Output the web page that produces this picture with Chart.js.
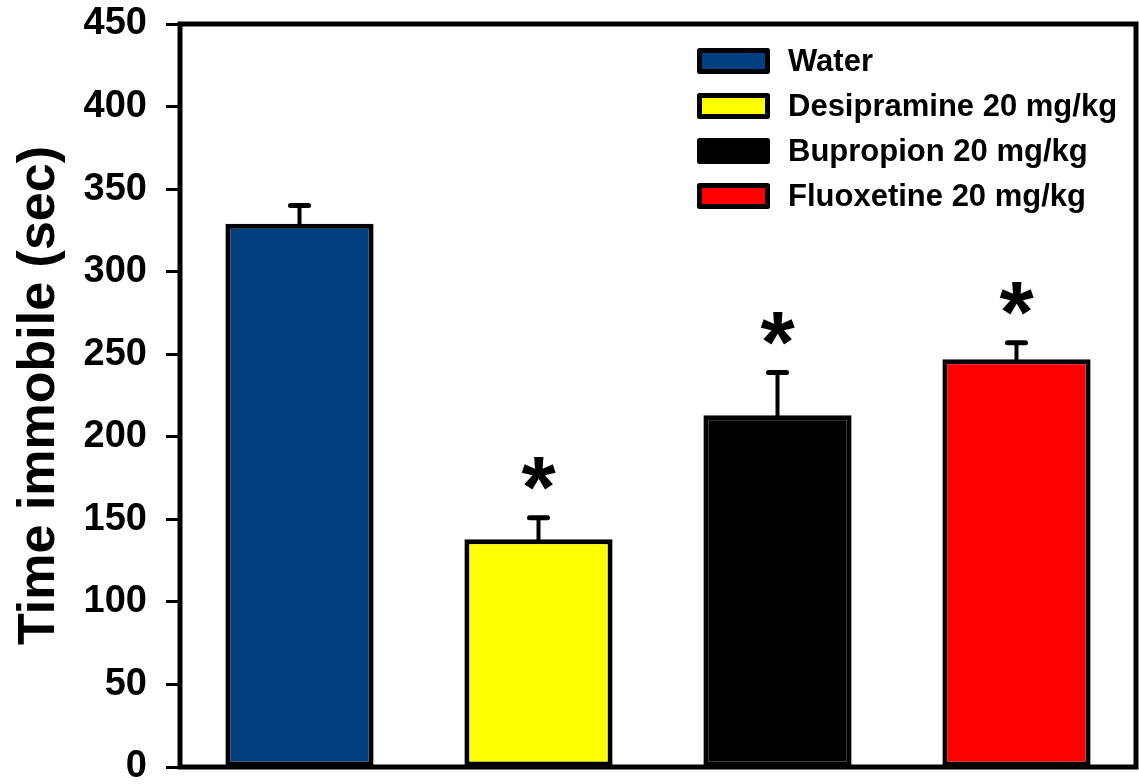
<!DOCTYPE html>
<html>
<head>
<meta charset="utf-8">
<script src="https://cdn.jsdelivr.net/npm/chart.js@4.4.0/dist/chart.umd.min.js"></script>
<style>
  html, body { margin: 0; padding: 0; background: #fff; }
  #wrap { width: 1139px; height: 784px; }
</style>
</head>
<body>
<div id="wrap"><canvas id="myChart" width="1139" height="784"></canvas></div>
<script>
// data
const groups = ['Water', 'Desipramine 20 mg/kg', 'Bupropion 20 mg/kg', 'Fluoxetine 20 mg/kg'];
const meanImmobile = [329, 138, 213, 247];
const semImmobile = [11, 13, 26, 10];
const sigMarks = ['', '*', '*', '*'];
const barColors = ['#004080', '#ffff00', '#000000', '#ff0000'];

const FONT = '"Liberation Sans", Arial, sans-serif';

// error bars + asterisks, drawn through the y scale
const errorBars = {
  id: 'errorBars',
  beforeDatasetsDraw(chart) {
    const ctx = chart.ctx;
    const y = chart.scales.y;
    const meta = chart.getDatasetMeta(0);
    ctx.save();
    ctx.strokeStyle = '#000';
    meta.data.forEach((bar, i) => {
      const x = bar.x;
      const yTop = y.getPixelForValue(meanImmobile[i]);
      const yErr = y.getPixelForValue(meanImmobile[i] + semImmobile[i]);
      ctx.lineCap = 'butt';
      ctx.lineWidth = 4;
      ctx.beginPath();
      ctx.moveTo(x, yTop + 2);
      ctx.lineTo(x, yErr);
      ctx.stroke();
      ctx.lineCap = 'round';
      ctx.lineWidth = 5;
      ctx.beginPath();
      ctx.moveTo(x - 9, yErr);
      ctx.lineTo(x + 9, yErr);
      ctx.stroke();
    });
    ctx.restore();
  },
  afterDraw(chart) {
    const ctx = chart.ctx;
    const y = chart.scales.y;
    const meta = chart.getDatasetMeta(0);
    ctx.save();
    ctx.fillStyle = '#000';
    ctx.font = 'bold 88px ' + FONT;
    ctx.textAlign = 'center';
    ctx.textBaseline = 'alphabetic';
    meta.data.forEach((bar, i) => {
      if (!sigMarks[i]) return;
      const yErr = y.getPixelForValue(meanImmobile[i] + semImmobile[i]);
      const m = ctx.measureText(sigMarks[i]);
      const cy = yErr - 44;
      const base = cy + (m.actualBoundingBoxAscent - m.actualBoundingBoxDescent) / 2;
      ctx.fillText(sigMarks[i], bar.x, base);
    });

    // frame round the plot
    const a = chart.chartArea;
    ctx.strokeStyle = '#000';
    ctx.lineWidth = 5;
    ctx.lineJoin = 'miter';
    ctx.strokeRect(a.left, a.top, a.right - a.left, a.bottom - a.top);

    // legend in the top right corner
    ctx.font = 'bold 31px ' + FONT;
    ctx.textAlign = 'left';
    ctx.textBaseline = 'middle';
    groups.forEach((g, i) => {
      const cy = 61 + i * 45;
      ctx.fillStyle = barColors[i];
      ctx.fillRect(699.5, cy - 10.5, 68, 21);
      ctx.lineWidth = 5;
      ctx.lineJoin = 'round';
      ctx.strokeStyle = '#000';
      ctx.strokeRect(699.5, cy - 10.5, 68, 21);
      ctx.fillStyle = '#000';
      ctx.fillText(g, 788, cy + 1);
    });
    ctx.restore();
  }
};

const canvas = document.getElementById('myChart');
const ctx = canvas.getContext('2d');
const config = {
  type: 'bar',
  data: {
    labels: groups,
    datasets: [{
      data: meanImmobile,
      backgroundColor: barColors,
      borderColor: '#000',
      borderWidth: 5,
      borderSkipped: false,
      categoryPercentage: 1,
      barPercentage: 0.62
    }]
  },
  options: {
    responsive: false,
    animation: false,
    layout: { padding: { left: 0, top: 24, right: 3, bottom: 17 } },
    plugins: { legend: { display: false }, tooltip: { enabled: false } },
    scales: {
      x: { display: false },
      y: {
        min: 0,
        max: 450,
        afterFit(scale) {
          scale.width = 180;
          scale.paddingTop = 0;
          scale.paddingBottom = 0;
        },
        border: { display: false },
        grid: {
          drawOnChartArea: false,
          drawTicks: true,
          tickLength: 14,
          tickWidth: 3,
          tickColor: '#000'
        },
        ticks: {
          stepSize: 50,
          padding: 19,
          color: '#000',
          font: { family: FONT, size: 38, weight: 'bold', lineHeight: 0.8 }
        },
        title: {
          display: true,
          text: 'Time immobile (sec)',
          color: '#000',
          padding: { top: 8, bottom: 0 },
          font: { family: FONT, size: 52, weight: 'bold' }
        }
      }
    }
  },
  plugins: [errorBars]
};

var myChart = new Chart(ctx, config);
</script>
</body>
</html>
